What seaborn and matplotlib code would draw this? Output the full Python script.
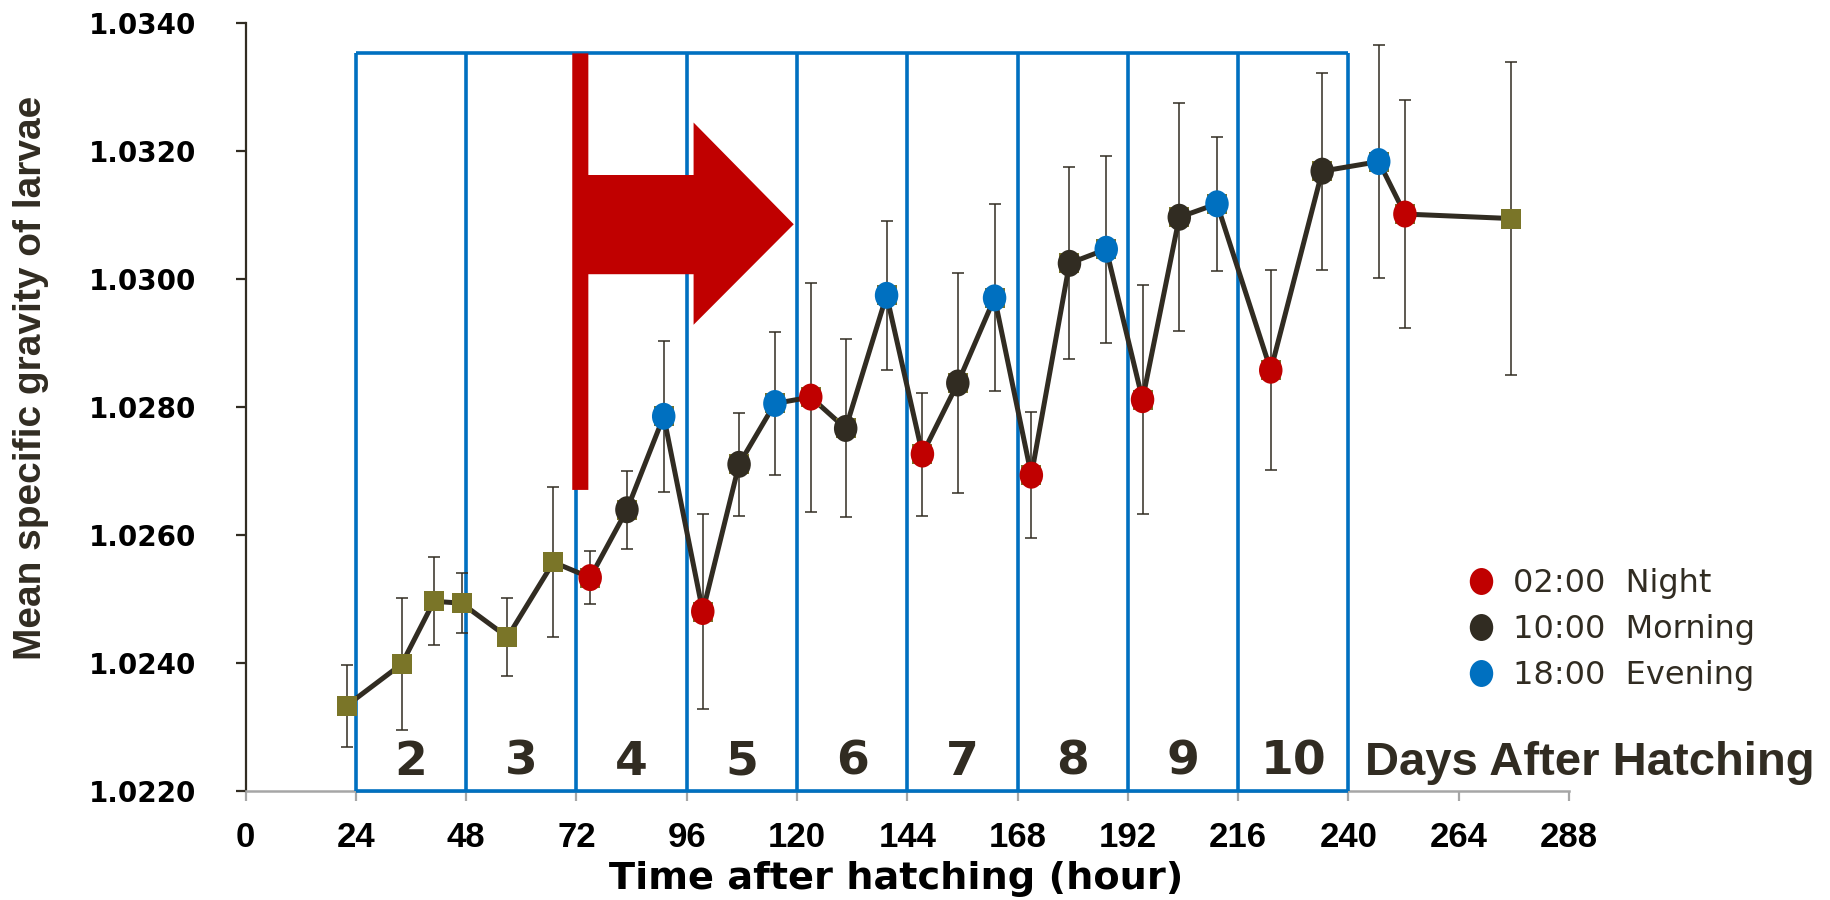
import numpy as np
import pandas as pd
import matplotlib
matplotlib.use("Agg")
import matplotlib.pyplot as plt
from matplotlib.path import Path
from matplotlib.patches import Polygon
from matplotlib.lines import Line2D
from matplotlib.transforms import Affine2D
import seaborn as sns

# ---------------- data ----------------
hours = [22, 34, 41, 47, 57, 67, 75, 83, 91, 99.5, 107.4, 115.2, 123, 130.6,
         139.5, 147.3, 155, 163, 171, 179.3, 187.3, 195.2, 203.2, 211.4,
         223.1, 234.3, 246.6, 252.3, 275.3]
mean_sg = [1.02334, 1.02399, 1.02497, 1.02494, 1.02441, 1.02558, 1.02534,
           1.02640, 1.02786, 1.02481, 1.02711, 1.02806, 1.02816, 1.02767,
           1.02975, 1.02727, 1.02838, 1.02971, 1.02694, 1.03025, 1.03047,
           1.02812, 1.03097, 1.03118, 1.02858, 1.03169, 1.03184, 1.03102,
           1.03095]
sd_sg = [0.00064, 0.00103, 0.00069, 0.00047, 0.00061, 0.00117, 0.00042,
         0.00061, 0.00118, 0.00152, 0.00080, 0.00112, 0.00179, 0.00139,
         0.00116, 0.00096, 0.00172, 0.00146, 0.00098, 0.00150, 0.00146,
         0.00179, 0.00178, 0.00105, 0.00156, 0.00154, 0.00182, 0.00178,
         0.00245]
sampling = (["-"] * 6
            + ["02:00  Night", "10:00  Morning", "18:00  Evening"] * 7
            + ["02:00  Night", "-"])
legend_labels = ["02:00  Night", "10:00  Morning", "18:00  Evening"]

x_ticks = [0, 24, 48, 72, 96, 120, 144, 168, 192, 216, 240, 264, 288]
y_ticks = [1.022, 1.024, 1.026, 1.028, 1.030, 1.032, 1.034]
day_edges = [24, 48, 72, 96, 120, 144, 168, 192, 216, 240]
day_labels = ["2", "3", "4", "5", "6", "7", "8", "9", "10"]
box_top = 1.03353

# ---------------- style ----------------
DARK = "#312C22"
OLIVE = "#7A7528"
RED = "#C00000"
BLUE = "#0070C0"
GRAY = "#A6A6A6"
palette = {"02:00  Night": RED, "10:00  Morning": DARK, "18:00  Evening": BLUE}

sns.set_style("white")
plt.rcParams["font.family"] = ["DejaVu Sans"]

df = pd.DataFrame({"hour": hours, "sg": mean_sg, "sd": sd_sg, "sampling": sampling})
df_dot = df[df["sampling"] != "-"]

fig = plt.figure(figsize=(18.31, 9.0), dpi=100)
ax = fig.add_axes([0.1341, 0.1207, 0.7228, 0.8534])

# ellipse marker (slightly taller than wide)
ellipse = Path.unit_circle().transformed(Affine2D().scale(0.87, 1.0))

# blue day boxes
ax.vlines(day_edges, 1.022, box_top, colors=BLUE, lw=2.6, zorder=2.6, clip_on=False)
ax.hlines([box_top, 1.022], day_edges[0], day_edges[-1], colors=BLUE, lw=2.6,
          zorder=2.6, clip_on=False)

# red arrow (annotation)
arrow_pts = [(71.1, 1.02671), (71.1, box_top), (74.6, box_top), (74.6, 1.03163),
             (97.5, 1.03163), (97.5, 1.03245), (119.3, 1.03086), (97.5, 1.02929),
             (97.5, 1.03008), (74.6, 1.03008), (74.6, 1.02671)]
ax.add_patch(Polygon(arrow_pts, closed=True, facecolor=RED, edgecolor="none", zorder=2.7))

# error bars, line and squares
ax.errorbar(df["hour"], df["sg"], yerr=df["sd"], fmt="none", ecolor=DARK,
            elinewidth=1.1, capsize=4.5, capthick=1.1, zorder=3)
sns.lineplot(data=df, x="hour", y="sg", sort=False, estimator=None, ax=ax,
             color=DARK, lw=3.6, marker="s", markersize=14.8,
             markerfacecolor=OLIVE, markeredgewidth=0, zorder=4)
sns.scatterplot(data=df_dot, x="hour", y="sg", hue="sampling", palette=palette,
                marker=ellipse, s=378, linewidth=0, edgecolor="none",
                legend=False, ax=ax, zorder=5)

# axes limits / ticks
ax.set_xlim(0, 288)
ax.set_ylim(1.022, 1.034)
ax.set_xticks(x_ticks)
ax.set_xticklabels([str(t) for t in x_ticks], fontfamily="Liberation Sans",
                   fontweight="bold", fontsize=25, color="black")
ax.set_yticks(y_ticks)
ax.set_yticklabels([f"{v:.4f}" for v in y_ticks], fontfamily="DejaVu Sans",
                   fontweight="bold", fontsize=20, color="black")
ax.tick_params(axis="y", direction="out", length=7.2, width=1.6, color=DARK, pad=28,
               left=True)
ax.tick_params(axis="x", direction="out", length=7.2, width=1.6, color=GRAY, pad=14,
               bottom=True)
for s in ["top", "right"]:
    ax.spines[s].set_visible(False)
ax.spines["left"].set_color(DARK)
ax.spines["left"].set_linewidth(1.6)
ax.spines["bottom"].set_color(GRAY)
ax.spines["bottom"].set_linewidth(1.8)

ax.set_xlabel("Time after hatching (hour)", fontfamily="DejaVu Sans",
              fontweight="bold", fontsize=27.5, color="black")
ax.xaxis.label.set_va("baseline")
ax.xaxis.set_label_coords(0.4915, -0.1275)
ax.set_ylabel("Mean specific gravity of larvae", fontfamily="Liberation Sans",
              fontweight="bold", fontsize=28, color=DARK)
ax.yaxis.label.set_va("center")
ax.yaxis.label.set_ha("center")
ax.yaxis.set_label_coords(-0.162, 0.539)

# day numbers
for lo, hi, lab in zip(day_edges[:-1], day_edges[1:], day_labels):
    ax.text((lo + hi) / 2, 1.02226, lab, ha="center", va="baseline",
            fontfamily="DejaVu Sans", fontweight="bold", fontsize=34, color=DARK,
            zorder=6)
ax.text(243.6, 1.02226, "Days After Hatching", ha="left", va="baseline",
        fontfamily="Liberation Sans", fontweight="bold", fontsize=34, color=DARK,
        clip_on=False, zorder=6)

# legend
handles = [Line2D([], [], linestyle="none", marker=ellipse, markersize=19.4,
                  markerfacecolor=palette[l], markeredgewidth=0) for l in legend_labels]
leg = ax.legend(handles, legend_labels, loc="upper left",
                bbox_to_anchor=(1468 / 1831, 1 - 568 / 900),
                bbox_transform=fig.transFigure, frameon=False, borderpad=0,
                borderaxespad=0, handlelength=0.8, handletextpad=0.61,
                labelspacing=0.47, prop={"family": "DejaVu Sans", "size": 23})
for t in leg.get_texts():
    t.set_color(DARK)

fig.savefig("out.png", dpi=100)
